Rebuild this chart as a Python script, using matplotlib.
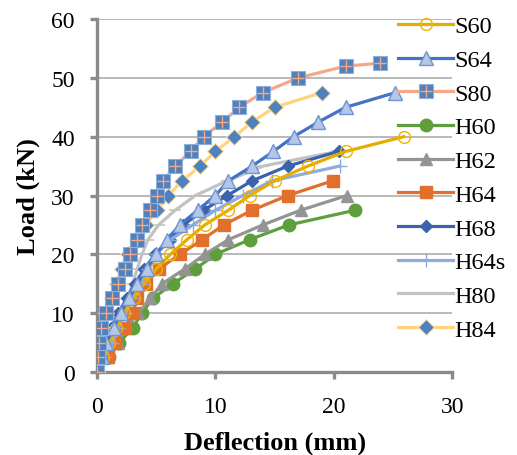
import matplotlib.pyplot as plt

plt.rcParams['font.family'] = ['Liberation Serif', 'DejaVu Serif']

# deflection (mm) / load (kN)
s60_x = [0, 0.5, 1.0, 1.6, 2.3, 3.1, 4.0, 5.0, 6.2, 7.6, 9.1, 11.1, 12.9, 15.0, 17.8, 21.0, 25.9]
s60_y = [0, 2.5, 5, 7.5, 10, 12.5, 15, 17.5, 20, 22.5, 25, 27.5, 30, 32.5, 35, 37.5, 40]

s64_x = [0, 0.4, 0.8, 1.4, 2.0, 2.7, 3.4, 4.2, 5.0, 5.9, 7.0, 8.5, 10.0, 11.1, 13.1, 14.9, 16.6, 18.7, 21.0, 25.2]
s64_y = [0, 2.5, 5, 7.5, 10, 12.5, 15, 17.5, 20, 22.5, 25, 27.5, 30, 32.5, 35, 37.5, 40, 42.5, 45, 47.5]

s80_x = [0, 0.1, 0.2, 0.3, 0.8, 1.3, 1.8, 2.4, 2.8, 3.4, 3.8, 4.5, 5.1, 5.6, 6.6, 7.9, 9.0, 10.6, 12.0, 14.0, 17.0, 21.0, 23.9]
s80_y = [0, 2.5, 5, 7.5, 10, 12.5, 15, 17.5, 20, 22.5, 25, 27.5, 30, 32.5, 35, 37.5, 40, 42.5, 45, 47.5, 50, 52, 52.5]

h60_x = [0, 1.0, 1.9, 3.0, 3.8, 4.7, 6.4, 8.3, 10.0, 12.9, 16.2, 21.8]
h60_y = [0, 2.5, 5, 7.5, 10, 12.5, 15, 17.5, 20, 22.5, 25, 27.5]

h62_x = [0, 0.9, 1.8, 2.4, 3.5, 4.5, 5.5, 7.4, 9.1, 11.1, 14.0, 17.2, 21.1]
h62_y = [0, 2.5, 5, 7.5, 10, 12.5, 15, 17.5, 20, 22.5, 25, 27.5, 30]

h64_x = [0, 0.9, 1.5, 2.4, 3.0, 3.4, 4.1, 5.2, 7.0, 8.9, 10.7, 13.1, 16.1, 19.9]
h64_y = [0, 2.5, 5, 7.5, 10, 12.5, 15, 17.5, 20, 22.5, 25, 27.5, 30, 32.5]

h68_x = [0, 0.3, 0.7, 1.2, 1.8, 2.5, 3.2, 4.0, 4.9, 6.2, 7.3, 9.0, 11.0, 13.1, 16.1, 20.4]
h68_y = [0, 2.5, 5, 7.5, 10, 12.5, 15, 17.5, 20, 22.5, 25, 27.5, 30, 32.5, 35, 37.5]

h64s_x = [0, 0.6, 1.3, 1.8, 2.4, 3.0, 3.8, 4.3, 5.0, 6.2, 8.1, 10.0, 12.3, 14.8, 20.5]
h64s_y = [0, 2.5, 5, 7.5, 10, 12.5, 15, 17.5, 20, 22.5, 25, 27.5, 30, 32.5, 35]

h80_x = [0, 0.6, 1.2, 1.7, 2.1, 2.6, 3.0, 3.4, 3.8, 4.3, 5.2, 6.6, 8.3, 11.0, 14.0, 20.3]
h80_y = [0, 2.5, 5, 7.5, 10, 12.5, 15, 17.5, 20, 22.5, 25, 27.5, 30, 32.5, 35, 37.5]

h84_x = [0, 0.1, 0.3, 0.4, 0.8, 1.3, 1.7, 2.1, 2.6, 3.4, 4.1, 5.1, 6.0, 7.2, 8.7, 10.0, 11.6, 13.1, 15.0, 19.0]
h84_y = [0, 2.5, 5, 7.5, 10, 12.5, 15, 17.5, 20, 22.5, 25, 27.5, 30, 32.5, 35, 37.5, 40, 42.5, 45, 47.5]

fig = plt.figure(figsize=(5.17, 4.56), dpi=100)
ax = fig.add_axes([0.1876, 0.182, 0.687, 0.774])

lw = 2.3
steel = '#4f81bd'

h_s60, = ax.plot(s60_x, s60_y, color='#e5ad00', lw=lw, marker='o', ms=8.5,
                 mfc='none', mec='#f0b400', mew=1.0, zorder=5)
h_s64, = ax.plot(s64_x, s64_y, color='#4472c4', lw=lw, marker='^', ms=10,
                 mfc='#b4c7e7', mec='#6f93d3', mew=1.0, zorder=5)
h_s80, = ax.plot(s80_x, s80_y, color='#f4a888', lw=lw, marker='s', ms=9.5,
                 mfc=steel, mec='#8fb0dc', mew=0.8, zorder=5)
h_s80p, = ax.plot(s80_x, s80_y, ls='none', marker='+', ms=9, mec='#f4a888', mew=1.0, zorder=6)
h_h60, = ax.plot(h60_x, h60_y, color='#5e9e3c', lw=lw, marker='o', ms=9,
                 mfc='#5e9e3c', mec='#5e9e3c', zorder=4)
h_h62, = ax.plot(h62_x, h62_y, color='#949494', lw=lw, marker='^', ms=9,
                 mfc='#949494', mec='#949494', zorder=4)
h_h64, = ax.plot(h64_x, h64_y, color='#e0702c', lw=lw, marker='s', ms=9,
                 mfc='#e0702c', mec='#e0702c', zorder=4)
h_h68, = ax.plot(h68_x, h68_y, color='#3a62ad', lw=lw, marker='D', ms=6.5,
                 mfc='#3a62ad', mec='#3a62ad', zorder=4)
h_h64s, = ax.plot(h64s_x, h64s_y, color='#8faadc', lw=lw, marker='+', ms=10,
                  mec='#8faadc', mew=1.0, zorder=4)
h_h80, = ax.plot(h80_x, h80_y, color='#c2c2c2', lw=lw, marker='_', ms=9,
                 mec='#c2c2c2', mew=1.2, zorder=3)
h_h84, = ax.plot(h84_x, h84_y, color='#ffd37a', lw=lw, marker='D', ms=8,
                 mfc=steel, mec='#ffe0a0', mew=0.8, zorder=4)

ax.set_xlim(0, 30)
ax.set_ylim(0, 60)
ax.set_xticks([0, 10, 20, 30])
ax.set_yticks([0, 10, 20, 30, 40, 50, 60])
ax.yaxis.grid(True, color='#a6a6a6', lw=1.1)
ax.set_axisbelow(True)
for s in ['top', 'right']:
    ax.spines[s].set_visible(False)
for s in ['left', 'bottom']:
    ax.spines[s].set_color('#8a8a8a')
    ax.spines[s].set_linewidth(2.4)
ax.tick_params(axis='both', colors='#8a8a8a', width=2.4, length=5, labelsize=17,
               labelcolor='black')
ax.tick_params(axis='x', pad=12)
ax.tick_params(axis='y', pad=11)
ax.set_xlabel('Deflection (mm)', fontsize=19, fontweight='bold', labelpad=10)
ax.set_ylabel('Load (kN)', fontsize=19, fontweight='bold', labelpad=8)

handles = [h_s60, h_s64, (h_s80, h_s80p), h_h60, h_h62, h_h64, h_h68, h_h64s, h_h80, h_h84]
labels = ['S60', 'S64', 'S80', 'H60', 'H62', 'H64', 'H68', 'H64s', 'H80', 'H84']
fig.legend(handles, labels, loc='upper left', bbox_to_anchor=(0.769, 0.964),
           frameon=False, fontsize=17.5, handlelength=2.3, handletextpad=0.05,
           labelspacing=0.48, borderaxespad=0, borderpad=0, numpoints=1)

fig.savefig('out.png', dpi=100)
